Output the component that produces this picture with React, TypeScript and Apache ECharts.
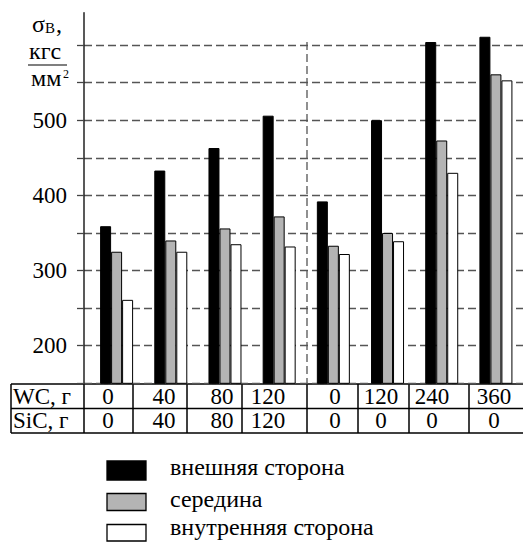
import React, { useEffect, useRef } from 'react';
import * as echarts from 'echarts';

// ---- data ----
const wcLabels = ['0', '40', '80', '120', '0', '120', '240', '360'];
const sicLabels = ['0', '40', '80', '120', '0', '0', '0', '0'];
const seriesNames = ['внешняя сторона', 'середина', 'внутренняя сторона'];
const outerSide = [359, 433, 463, 506, 392, 500, 604, 611];
const middle = [325, 340, 356, 372, 333, 350, 473, 561];
const innerSide = [261, 325, 335, 332, 322, 339, 430, 553];
const yTickLabels = [200, 300, 400, 500];
const tableRowTitles = ['WC, г', 'SiC, г'];

// ---- layout / style ----
const FONT = 'Liberation Serif';
const SERIES_COLORS = ['#000000', '#b4b4b4', '#ffffff'];
const colLines = [84, 133, 187, 242, 307, 358, 409, 469];
const textCenters = [108, 164, 222, 268, 335, 381, 432, 494];
const legendRects = [
  [107, 461, 39, 19],
  [107, 493.5, 39, 17],
  [107, 524.5, 39, 16.5],
];
const legendTextY = [467, 499, 527];
const tableTop = 384;
const tableMid = 408.5;
const tableBottom = 433;
const tableLeft = 11;
const tableRight = 523;

function txt(text: string, x: number, y: number, size: number, align = 'left') {
  return {
    type: 'text',
    x,
    y,
    silent: true,
    style: {
      text,
      fill: '#000',
      fontSize: size,
      fontFamily: FONT,
      textAlign: align,
      align,
      textVerticalAlign: 'middle',
      verticalAlign: 'middle',
    },
  };
}

function ln(x1: number, y1: number, x2: number, y2: number, extra: any = {}) {
  return {
    type: 'line',
    silent: true,
    shape: { x1, y1, x2, y2 },
    style: { stroke: '#000', lineWidth: 1.5, ...extra },
  };
}

export default function App() {
  const ref = useRef<HTMLDivElement>(null);

  useEffect(() => {
    document.body.style.margin = '0';
    if (!ref.current) return;
    const chart = echarts.init(ref.current, undefined, { renderer: 'svg' });

    const categories = wcLabels.map((w, i) => `WC ${w} / SiC ${sicLabels[i]} #${i + 1}`);

    const graphics: any[] = [];
    // table grid
    [tableTop, tableMid, tableBottom].forEach((y) => graphics.push(ln(tableLeft, y, tableRight, y)));
    [tableLeft, ...colLines].forEach((x) => graphics.push(ln(x, tableTop, x, tableBottom)));
    // table texts
    const row1 = (tableTop + tableMid) / 2;
    const row2 = (tableMid + tableBottom) / 2;
    graphics.push(txt(tableRowTitles[0], 13, row1, 23));
    graphics.push(txt(tableRowTitles[1], 13, row2, 23));
    wcLabels.forEach((t, i) => graphics.push(txt(t, textCenters[i], row1, 23, 'center')));
    sicLabels.forEach((t, i) => graphics.push(txt(t, textCenters[i], row2, 23, 'center')));
    // vertical separator
    graphics.push(ln(307, 42, 307, tableTop, { stroke: '#555', lineWidth: 1.3, lineDash: [8, 4] }));
    // axis title
    graphics.push(txt('σ', 32, 24, 24));
    graphics.push(txt('В', 45, 28, 15));
    graphics.push(txt(',', 56, 24, 24));
    graphics.push(txt('кгс', 29, 51, 24));
    graphics.push(ln(28, 65, 67, 65, { lineWidth: 1.2 }));
    graphics.push(txt('мм', 31, 78, 24));
    graphics.push(txt('2', 63, 74, 12));
    // legend
    seriesNames.forEach((name, k) => {
      const [x, y, w, h] = legendRects[k];
      graphics.push({
        type: 'rect',
        silent: true,
        shape: { x, y, width: w, height: h },
        style: { fill: SERIES_COLORS[k], stroke: '#000', lineWidth: 1.3 },
      });
      graphics.push(txt(name, 170, legendTextY[k], 24));
    });

    const values = [outerSide, middle, innerSide];

    chart.setOption({
      animation: false,
      backgroundColor: '#fff',
      textStyle: { fontFamily: FONT },
      grid: [
        { left: 89.5, right: -5, top: 12.7, height: 370.6 },
        { left: 84, right: 0, top: 45, height: 338.3 },
      ],
      xAxis: [
        { type: 'category', gridIndex: 0, data: categories, show: false },
        { type: 'value', gridIndex: 1, min: 0, max: 1, show: false },
      ],
      yAxis: [
        {
          type: 'value',
          gridIndex: 0,
          min: 150,
          max: 643,
          offset: 5.5,
          axisLine: { show: true, lineStyle: { color: '#222', width: 1.5 } },
          axisTick: { show: false },
          axisLabel: { show: false },
          splitLine: { show: false },
        },
        {
          type: 'value',
          gridIndex: 1,
          min: 150,
          max: 600,
          interval: 50,
          axisLine: { show: false },
          axisTick: { show: true, length: 7, lineStyle: { color: '#444', width: 1.3 } },
          axisLabel: {
            margin: 17,
            fontSize: 23,
            fontFamily: FONT,
            color: '#000',
            formatter: (v: number) => (yTickLabels.includes(v) ? String(v) : ''),
          },
          splitLine: { show: true, lineStyle: { type: [8, 4], color: '#555', width: 1.3 } },
        },
      ],
      series: seriesNames.map((name, k) => ({
        type: 'bar',
        name,
        xAxisIndex: 0,
        yAxisIndex: 0,
        data: values[k],
        barWidth: 11,
        barGap: '0%',
        itemStyle: { color: SERIES_COLORS[k], borderColor: '#000', borderWidth: 1 },
      })),
      graphic: graphics,
    });

    return () => chart.dispose();
  }, []);

  return (
    <div
      ref={ref}
      style={{ position: 'absolute', left: 0, top: 0, width: 523, height: 542 }}
    />
  );
}
